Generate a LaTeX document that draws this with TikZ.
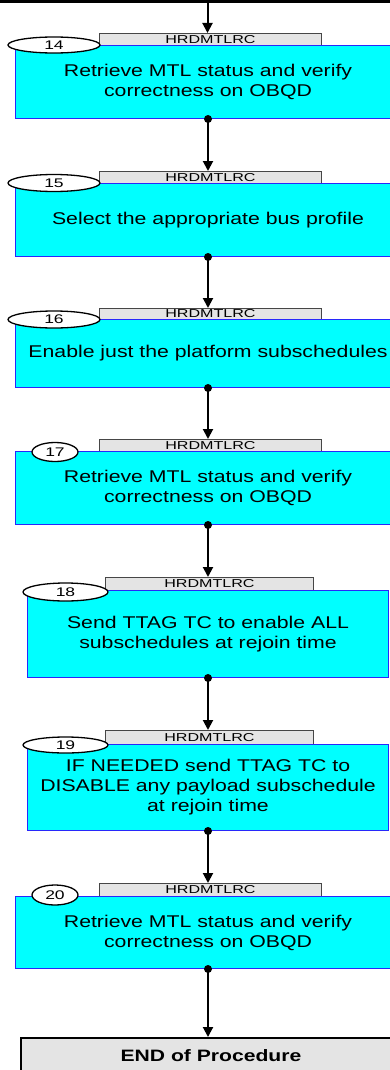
\documentclass[tikz,border=0pt]{standalone}
\usepackage{fontspec}
\setmainfont{Liberation Sans}
\newfontfamily\stepfont[FakeStretch=1.25]{Liberation Sans}
\newfontfamily\tagfont[FakeStretch=1.4]{Liberation Sans}
\newfontfamily\endfont[FakeStretch=1.28]{Liberation Sans}
\usetikzlibrary{shapes.geometric,arrows.meta}
\definecolor{stepcyan}{RGB}{0,255,255}
\definecolor{stepblue}{RGB}{40,40,250}
\definecolor{tabgray}{RGB}{228,228,228}
\definecolor{tabedge}{RGB}{70,70,70}
\begin{document}
\begin{tikzpicture}[x=1pt,y=-1pt,
  stepbox/.style={draw=stepblue, line width=1pt, fill=stepcyan, anchor=north west,
    inner sep=0pt, align=center, font=\stepfont\fontsize{17}{20}\selectfont},
  tabbox/.style={draw=tabedge, line width=0.9pt, fill=tabgray, anchor=north west,
    inner sep=0pt, font=\tagfont\fontsize{11.5}{12}\selectfont},
  numoval/.style={ellipse, draw=black, line width=1.3pt, fill=white, inner sep=0pt,
    font=\tagfont\fontsize{12.5}{13}\selectfont},
  endbox/.style={draw=black, line width=2pt, fill=tabgray, anchor=north west,
    inner sep=0pt, font=\endfont\bfseries\fontsize{16.5}{19}\selectfont},
  flow/.style={line width=2pt, -{Triangle[width=10pt,length=10pt]}},
  dot/.style={circle, fill=black, inner sep=0pt, minimum size=8pt}
]
\useasboundingbox (0,0) rectangle (390,1070);

% bottom edge of the preceding step
\fill (0,0) rectangle (390,3);
\coordinate (entry) at (207.5,3);

% step 14
\node[tabbox, minimum width=222pt, minimum height=12pt] (t14) at (99,33) {HRDMTLRC};
\node[stepbox, minimum width=385pt, minimum height=73pt] (b14) at (15,45)
  {Retrieve MTL status and verify\\correctness on OBQD};
\node[numoval, minimum width=92pt, minimum height=16pt] (n14) at (54,45) {14};
\node[dot] (d14) at (b14.south) {};

% step 15
\node[tabbox, minimum width=222pt, minimum height=12pt] (t15) at (99,171) {HRDMTLRC};
\node[stepbox, minimum width=385pt, minimum height=73pt] (b15) at (15,183)
  {Select the appropriate bus profile};
\node[numoval, minimum width=92pt, minimum height=17pt] (n15) at (54,183) {15};
\node[dot] (d15) at (b15.south) {};

% step 16
\node[tabbox, minimum width=222pt, minimum height=11pt] (t16) at (99,308) {HRDMTLRC};
\node[stepbox, minimum width=385pt, minimum height=68pt] (b16) at (15,319)
  {Enable just the platform subschedules};
\node[numoval, minimum width=92pt, minimum height=17pt] (n16) at (54,319.5) {16};
\node[dot] (d16) at (b16.south) {};

% step 17
\node[tabbox, minimum width=222pt, minimum height=12pt] (t17) at (99,439) {HRDMTLRC};
\node[stepbox, minimum width=385pt, minimum height=73pt] (b17) at (15,451)
  {Retrieve MTL status and verify\\correctness on OBQD};
\node[numoval, minimum width=46pt, minimum height=19pt] (n17) at (55,452) {17};
\node[dot] (d17) at (b17.south) {};

% step 18
\node[tabbox, minimum width=208pt, minimum height=13pt] (t18) at (105,577) {HRDMTLRC};
\node[stepbox, minimum width=361pt, minimum height=87pt] (b18) at (27,590)
  {Send TTAG TC to enable ALL\\subschedules at rejoin time};
\node[numoval, minimum width=85pt, minimum height=18pt] (n18) at (65.5,592) {18};
\node[dot] (d18) at (b18.south) {};

% step 19
\node[tabbox, minimum width=208pt, minimum height=14pt] (t19) at (105,730) {HRDMTLRC};
\node[stepbox, minimum width=361pt, minimum height=86pt] (b19) at (27,744)
  {IF NEEDED send TTAG TC to\\DISABLE any payload subschedule\\at rejoin time};
\node[numoval, minimum width=85pt, minimum height=16pt] (n19) at (65.5,745) {19};
\node[dot] (d19) at (b19.south) {};

% step 20
\node[tabbox, minimum width=222pt, minimum height=13pt] (t20) at (99,883) {HRDMTLRC};
\node[stepbox, minimum width=385pt, minimum height=72pt] (b20) at (15,896)
  {Retrieve MTL status and verify\\correctness on OBQD};
\node[numoval, minimum width=46pt, minimum height=20pt] (n20) at (55,895) {20};
\node[dot] (d20) at (b20.south) {};

% end of procedure
\node[endbox, minimum width=380pt, minimum height=36pt] (endp) at (20,1037) {END of Procedure};

% flow connectors
\draw[flow] (entry) -- (entry |- t14.north);
\draw[flow] (d14.center) -- (d14.center |- t15.north);
\draw[flow] (d15.center) -- (d15.center |- t16.north);
\draw[flow] (d16.center) -- (d16.center |- t17.north);
\draw[flow] (d17.center) -- (d17.center |- t18.north);
\draw[flow] (d18.center) -- (d18.center |- t19.north);
\draw[flow] (d19.center) -- (d19.center |- t20.north);
\draw[flow] (d20.center) -- (d20.center |- endp.north);
\end{tikzpicture}
\end{document}
